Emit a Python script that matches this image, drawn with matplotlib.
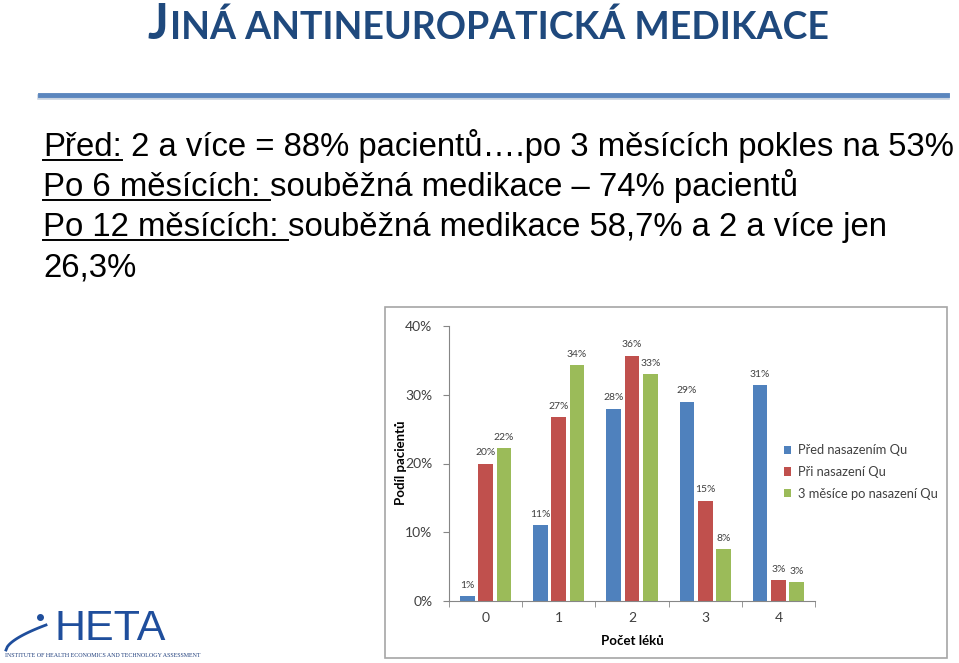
import numpy as np
import matplotlib.pyplot as plt
from matplotlib.patches import Rectangle
from matplotlib.lines import Line2D

# Data
categories = ["0", "1", "2", "3", "4"]
series_names = ["Před nasazením Qu", "Při nasazení Qu", "3 měsíce po nasazení Qu"]
pred = [0.7, 11.0, 28.0, 29.0, 31.4]
pri = [20.0, 26.7, 35.7, 14.6, 3.0]
po3 = [22.3, 34.3, 33.0, 7.6, 2.7]
colors = ["#4F81BD", "#C0504D", "#9BBB59"]

lines = [
    ("Před:", " 2 a více = 88% pacientů….po 3 měsících pokles na 53%"),
    ("Po 6 měsících: ", "souběžná medikace – 74% pacientů"),
    ("Po 12 měsících: ", "souběžná medikace 58,7% a 2 a více jen"),
    ("", "26,3%"),
]

W, H = 959, 663
fig = plt.figure(figsize=(W / 100, H / 100), dpi=100)
fig.patch.set_facecolor("white")

def fx(px):
    return px / W

def fy(py):
    return 1 - py / H

# Title in small caps
title_col = "#1F497D"
t1 = fig.text(fx(147), fy(39), "J", fontsize=35, color=title_col, fontweight="bold",
              family="Lato", va="baseline", ha="left")
fig.canvas.draw()
r = fig.canvas.get_renderer()
bb = t1.get_window_extent(r)
fig.text(bb.x1 / W + fx(2), fy(39), "INÁ ANTINEUROPATICKÁ MEDIKACE", fontsize=27,
         color=title_col, fontweight="bold", family="Lato", va="baseline", ha="left")

# Blue rule under title
fig.add_artist(Line2D([fx(40), fx(947)], [fy(97), fy(97)], color="#C9D3E0", lw=4))
fig.add_artist(Line2D([fx(40), fx(947)], [fy(95), fy(95)], color="#5B86BE", lw=3.5))

# Body text with underlined prefixes
base_y = [156, 196, 236, 276]
for (u, rest), by in zip(lines, base_y):
    x0 = 43
    if u:
        tu = fig.text(fx(x0), fy(by), u, fontsize=23.7, family="Liberation Sans",
                      va="baseline", ha="left")
        fig.canvas.draw()
        bbu = tu.get_window_extent(r)
        fig.add_artist(Line2D([bbu.x0 / W, bbu.x1 / W], [fy(by + 4), fy(by + 4)],
                              color="black", lw=1.4))
        x0 = bbu.x1
    fig.text(fx(x0), fy(by), rest, fontsize=23.7, family="Liberation Sans",
             va="baseline", ha="left")

# Chart frame
fig.add_artist(Rectangle((fx(385), fy(658)), fx(947) - fx(385), fy(307) - fy(658),
                         fill=False, edgecolor="#A6A6A6", lw=1.2))

# Chart
ax = fig.add_axes([fx(449), fy(601), fx(815) - fx(449), fy(326) - fy(601)])
x = np.arange(len(categories))
width = 0.2
step = 0.25
for i, (vals, c, name) in enumerate(zip([pred, pri, po3], colors, series_names)):
    pos = x + (i - 1) * step
    ax.bar(pos, vals, width=width, color=c, label=name)
    for p, v in zip(pos, vals):
        ax.text(p, v + 0.9, "%d%%" % round(v), ha="center", va="bottom",
                fontsize=7.5, color="#404040", family="Lato")

ax.set_xlim(-0.5, 4.5)
ax.set_ylim(0, 40)
ax.set_yticks([0, 10, 20, 30, 40])
ax.set_yticklabels(["0%", "10%", "20%", "30%", "40%"])
ax.set_xticks(x)
ax.set_xticklabels(categories)
ax.set_xticks(np.arange(-0.5, 5, 1), minor=True)
ax.tick_params(axis="x", which="major", length=0, pad=8)
ax.tick_params(axis="x", which="minor", length=4, color="#868686", direction="out")
ax.tick_params(axis="y", length=4, color="#868686", pad=8)
for lab in ax.get_xticklabels() + ax.get_yticklabels():
    lab.set_fontsize(10)
    lab.set_family("Lato")
    lab.set_color("#404040")
ax.spines["top"].set_visible(False)
ax.spines["right"].set_visible(False)
ax.spines["left"].set_color("#868686")
ax.spines["bottom"].set_color("#868686")

fig.text(fx(632), fy(641), "Počet léků", ha="center", va="center",
         fontsize=9.5, fontweight="bold", family="Lato")
fig.text(fx(401), fy(463), "Podíl pacientů", ha="center", va="center",
         rotation=90, fontsize=9.5, fontweight="bold", family="Lato")

leg = ax.legend(loc="center left", bbox_to_anchor=(fx(772), fy(472)),
                bbox_transform=fig.transFigure, frameon=False,
                prop={"family": "Lato", "size": 9.3}, handlelength=0.6,
                handleheight=0.6, handletextpad=0.5, labelspacing=0.75)
for t in leg.get_texts():
    t.set_color("#404040")

# Logo
logo_col = "#1F4E9C"
fig.text(fx(54), fy(640), "HETA", fontsize=31, color=logo_col,
         family="Liberation Sans", va="baseline", ha="left")
fig.add_artist(Line2D([fx(40)], [fy(617)], marker="o", markersize=4,
                      color=logo_col, lw=0))
arc_t = np.linspace(0, 1, 30)
fig.add_artist(Line2D(fx(6 + 40 * arc_t), fy(650 - 25 * arc_t ** 0.6),
                      color=logo_col, lw=2))
fig.text(fx(5), fy(657), "INSTITUTE OF HEALTH ECONOMICS AND TECHNOLOGY ASSESSMENT",
         fontsize=4.3, color="#1F3E7C", family="Liberation Serif",
         va="baseline", ha="left")

fig.savefig("out.png", dpi=100)
